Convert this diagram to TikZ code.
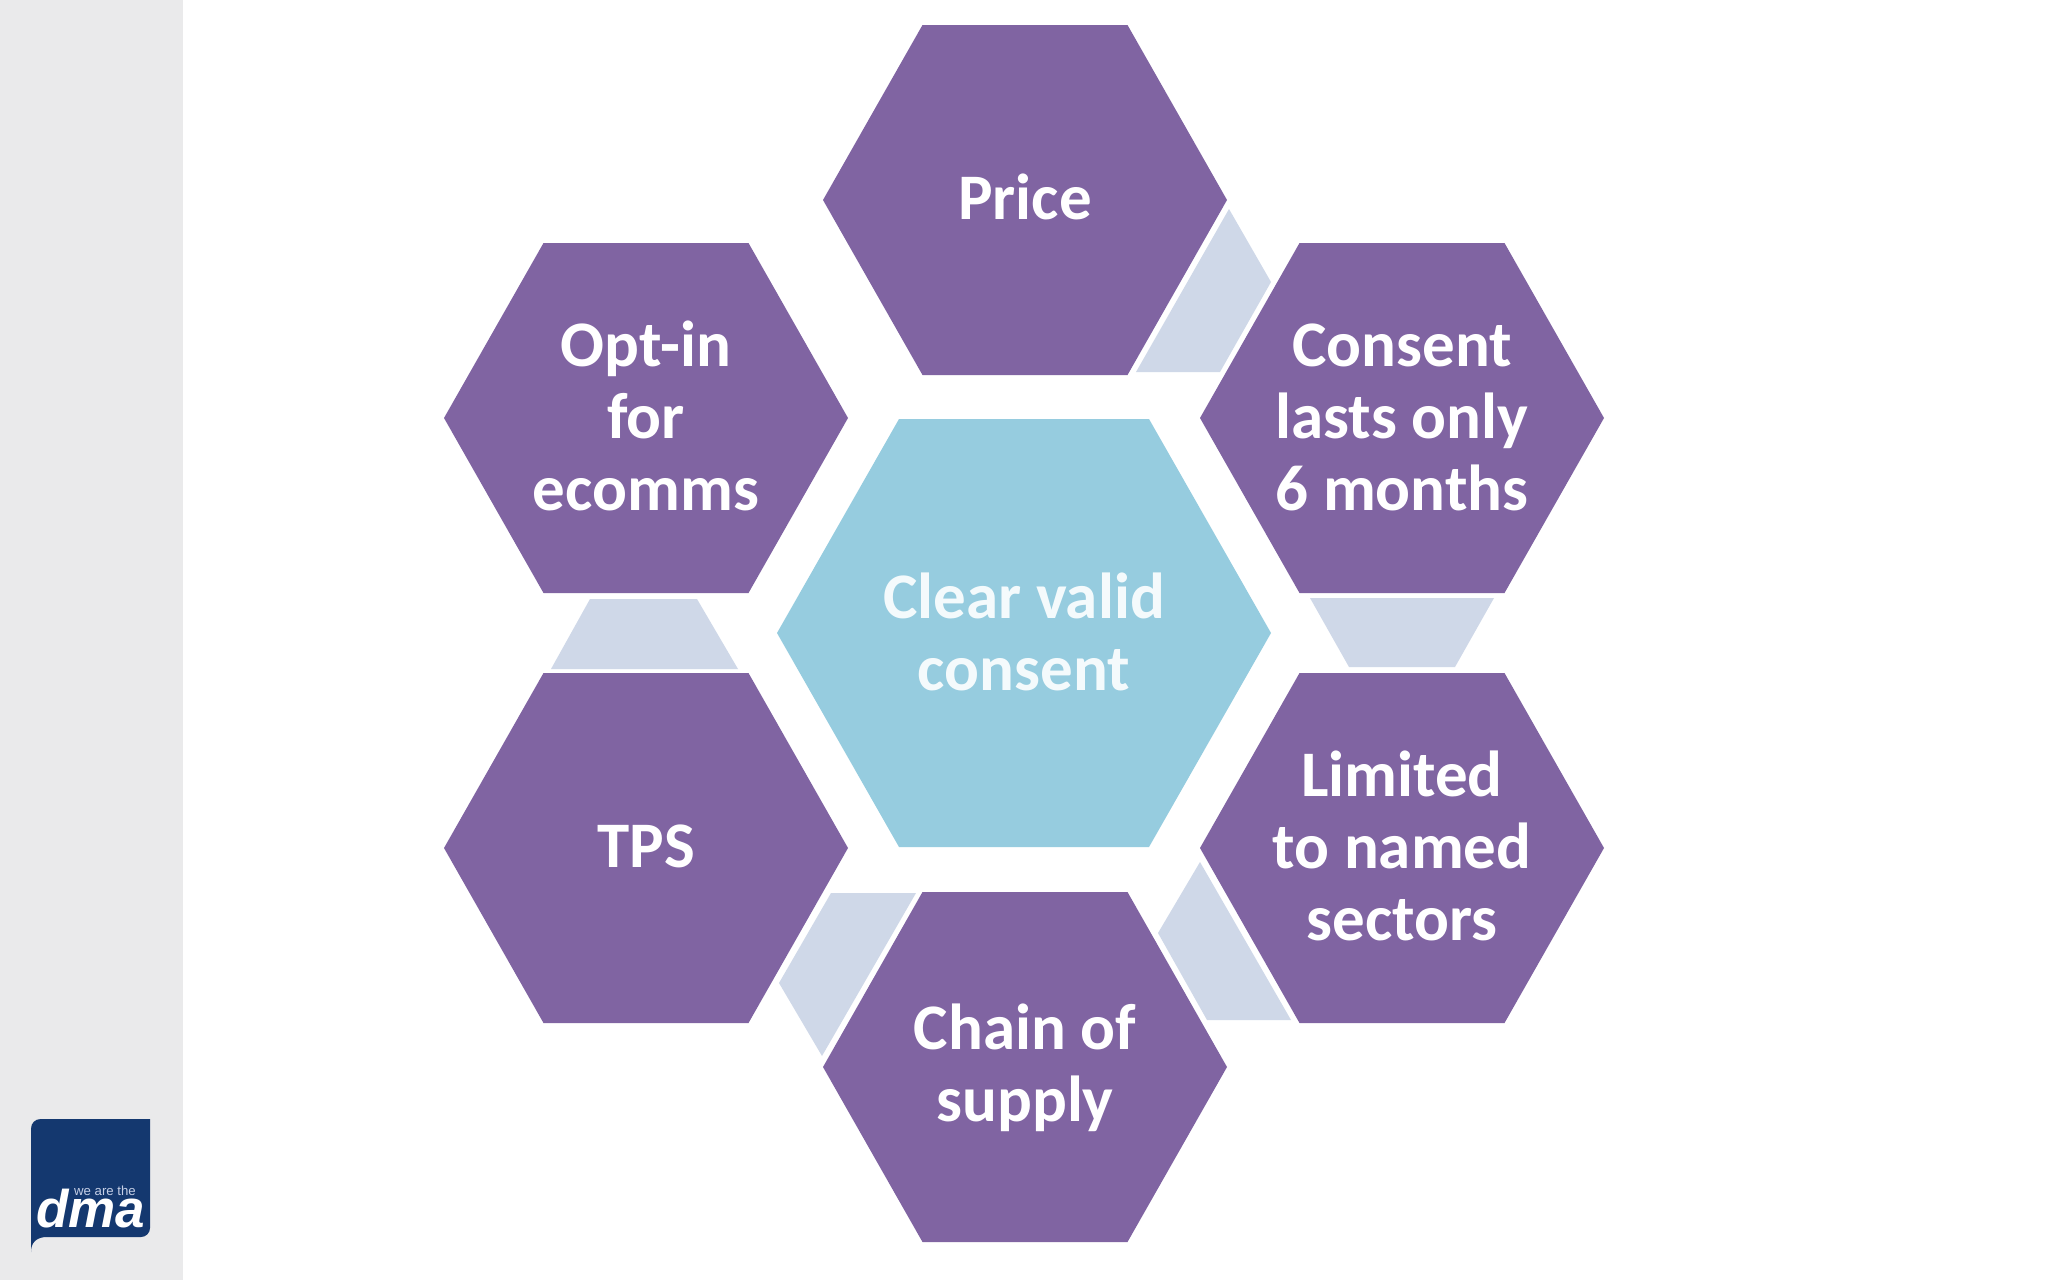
\documentclass[tikz,border=0pt]{standalone}
\usepackage{fontspec}
\setmainfont{Carlito}
\newfontfamily\logofont{Liberation Sans}
\definecolor{sidebar}{HTML}{EAEAEB}
\definecolor{hexpurple}{HTML}{8064A2}
\definecolor{hexcyan}{HTML}{96CCDF}
\definecolor{linkpale}{HTML}{CFD8E8}
\definecolor{logoblue}{HTML}{14386F}
\definecolor{logopale}{HTML}{C5CFE6}
\definecolor{centertext}{HTML}{F4FAFC}
\tikzset{
  x=1pt,y=-1pt,
  hexlabel/.style={text=white,font=\fontsize{65}{72}\selectfont\bfseries,align=center,inner sep=0pt},
  linkshape/.style={fill=linkpale,draw=none},
}
% #1 centre x, #2 centre y, #3 half width, #4 half top width, #5 half height, #6 colour
\newcommand{\hexshape}[6]{\fill[#6] ({#1-#3},#2) -- ({#1-#4},{#2-#5}) -- ({#1+#4},{#2-#5}) -- ({#1+#3},#2) -- ({#1+#4},{#2+#5}) -- ({#1-#4},{#2+#5}) -- cycle;}
\begin{document}
\begin{tikzpicture}
\useasboundingbox (0,0) rectangle (2048,1280);
\fill[white] (0,0) rectangle (2048,1280);
\fill[sidebar] (0,0) rectangle (183,1280);
% pale link shapes
\path[linkshape] (1229,209) -- (1271,282) -- (1220,372) -- (1136,372) -- cycle;
\path[linkshape] (1310,598) -- (1494,598) -- (1455,667) -- (1349,667) -- cycle;
\path[linkshape] (1200,862) -- (1158,933) -- (1207,1020) -- (1291,1020) -- cycle;
\path[linkshape] (831,893) -- (916,893) -- (822,1056) -- (779,983) -- cycle;
\path[linkshape] (590,599) -- (697,599) -- (738,669) -- (551,669) -- cycle;
% hexagons
\hexshape{1025}{200}{202}{102.5}{175}{hexpurple}
\hexshape{1402}{418}{202}{102.5}{175}{hexpurple}
\hexshape{1402}{848}{202}{102.5}{175}{hexpurple}
\hexshape{1025}{1067}{202}{102.5}{175}{hexpurple}
\hexshape{646}{848}{202}{102.5}{175}{hexpurple}
\hexshape{646}{418}{202}{102.5}{175}{hexpurple}
\hexshape{1024}{633}{247}{125}{214}{hexcyan}
% labels
\node[hexlabel] (price) at (1025,197) {Price};
\node[hexlabel] (consent) at (1402,417) {Consent\\lasts only\\6 months};
\node[hexlabel] (limited) at (1402,846) {Limited\\to named\\sectors};
\node[hexlabel] (chain) at (1025,1068) {Chain of\\supply};
\node[hexlabel] (tps) at (646,846) {TPS};
\node[hexlabel] (optin) at (646,416) {Opt-in\\for\\ecomms};
\node[hexlabel,text=centertext] (centre) at (1024,632) {Clear valid\\consent};
% logo
\fill[logoblue] (31,1252) .. controls (31,1242) and (37,1237) .. (47,1237) -- (141,1237)
  .. controls (146,1237) and (150,1233) .. (150,1228) -- (150,1119) -- (41,1119)
  .. controls (35,1119) and (31,1123) .. (31,1129) -- cycle;
\node[anchor=base west,inner sep=0pt,text=white,font=\logofont\fontsize{53}{53}\selectfont\bfseries\itshape] (dma) at (36,1227) {dma};
\node[anchor=base west,inner sep=0pt,text=logopale,font=\logofont\fontsize{13.2}{13.2}\selectfont] (weare) at (74,1195) {we are the};
\end{tikzpicture}
\end{document}
